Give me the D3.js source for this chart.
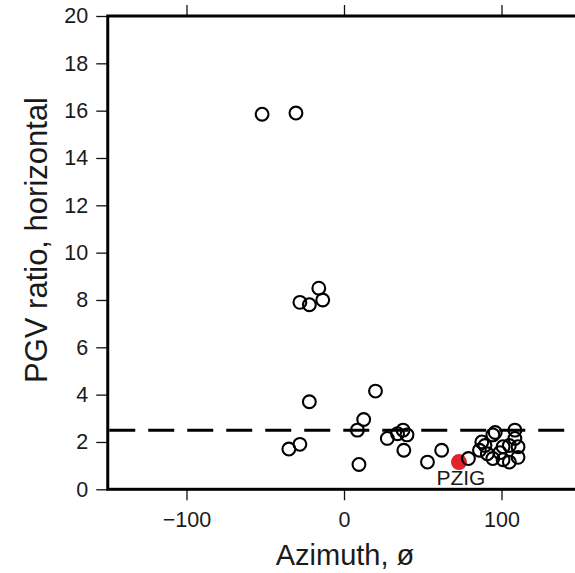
<!DOCTYPE html>
<html>
<head>
<meta charset="utf-8">
<script src="https://cdn.jsdelivr.net/npm/d3@7"></script>
<style>
  html, body { margin: 0; padding: 0; background: #fff; }
  svg { display: block; font-family: "Liberation Sans", Arial, Helvetica, sans-serif; }
</style>
</head>
<body>
<svg id="chart" width="575" height="573"></svg>
<script>
// Station azimuths (degrees) and horizontal PGV ratios
const azimuth = [-52, -30.5, -28, -22, -16, -13.5, -22, 20, 12.5, 8.5, 9.5, -35, -28,
  27.5, 34, 37.5, 40, 38, 53, 62, 79, 87.5, 86, 91, 94.5, 96, 94.5, 99, 101, 101,
  105, 108.5, 108.5, 110.5, 110.5, 89.5, 105];
const pgvRatio = [15.85, 15.9, 7.9, 7.8, 8.5, 8.0, 3.7, 4.15, 2.95, 2.5, 1.05, 1.7, 1.9,
  2.15, 2.35, 2.5, 2.3, 1.65, 1.15, 1.65, 1.3, 2.0, 1.65, 1.5, 2.3, 2.4, 1.3, 1.55, 1.8, 1.25,
  1.15, 2.5, 2.15, 1.8, 1.35, 1.85, 1.85];

// Highlighted station
const highlightName = ["PZIG"];
const highlightAzimuth = [73];
const highlightRatio = [1.15];

// Reference threshold
const threshold = [2.5];

const xTicks = [-100, 0, 100];
const yTicks = [0, 2, 4, 6, 8, 10, 12, 14, 16, 18, 20];

const svg = d3.select("#chart");
const plotL = 107.75, plotR = 580.25, plotT = 16, plotB = 489.3;

const x = d3.scaleLinear().domain([-150, 150]).range([plotL, plotR]);
const y = d3.scaleLinear().domain([0, 20]).range([plotB, plotT]);

const tickFont = "21.5px";

// Left axis
const gy = svg.append("g")
  .attr("transform", `translate(${plotL},0)`)
  .call(d3.axisLeft(y).tickValues(yTicks).tickSize(11.5).tickPadding(8).tickSizeOuter(0));
gy.select(".domain").remove();
gy.selectAll(".tick line").attr("stroke", "#111").attr("stroke-width", 1.3);
gy.selectAll(".tick text").attr("font-size", tickFont).attr("fill", "#1a1a1a").attr("font-family", "Liberation Sans, Arial, sans-serif");

// Bottom axis
const gx = svg.append("g")
  .attr("transform", `translate(0,${plotB})`)
  .call(d3.axisBottom(x).tickValues(xTicks).tickSize(11).tickPadding(11).tickSizeOuter(0));
gx.select(".domain").remove();
gx.selectAll(".tick line").attr("stroke", "#111").attr("stroke-width", 1.3);
gx.selectAll(".tick text").attr("font-size", tickFont).attr("fill", "#1a1a1a").attr("font-family", "Liberation Sans, Arial, sans-serif");

// Top axis (ticks only)
const gt = svg.append("g")
  .attr("transform", `translate(0,${plotT})`)
  .call(d3.axisTop(x).tickValues(xTicks).tickSize(11).tickFormat("").tickSizeOuter(0));
gt.select(".domain").remove();
gt.selectAll(".tick line").attr("stroke", "#111").attr("stroke-width", 1.3);

// Frame
svg.append("rect")
  .attr("x", plotL).attr("y", plotT)
  .attr("width", plotR - plotL).attr("height", plotB - plotT)
  .attr("fill", "none").attr("stroke", "#000").attr("stroke-width", 3);

// Threshold line
svg.selectAll("line.threshold").data(threshold).enter().append("line")
  .attr("class", "threshold")
  .attr("x1", plotL + 1.5).attr("x2", plotR)
  .attr("y1", d => y(d)).attr("y2", d => y(d))
  .attr("stroke", "#000").attr("stroke-width", 3)
  .attr("stroke-dasharray", "26,13");

// Highlighted station marker
svg.selectAll("circle.hl").data(highlightAzimuth).enter().append("circle")
  .attr("class", "hl")
  .attr("cx", d => x(d)).attr("cy", (d, i) => y(highlightRatio[i]))
  .attr("r", 8).attr("fill", "#e3232b");

// Station markers
const pts = azimuth.map((a, i) => ({ a, r: pgvRatio[i] }));
svg.selectAll("circle.pt").data(pts).enter().append("circle")
  .attr("class", "pt")
  .attr("cx", d => x(d.a)).attr("cy", d => y(d.r))
  .attr("r", 6.4).attr("fill", "none")
  .attr("stroke", "#000").attr("stroke-width", 2.1);

// Station label
svg.selectAll("text.hl").data(highlightName).enter().append("text")
  .attr("class", "hl")
  .attr("x", (d, i) => x(highlightAzimuth[i]) + 2)
  .attr("y", 485)
  .attr("text-anchor", "middle")
  .attr("font-size", "21px").attr("fill", "#1a1a1a")
  .text(d => d);

// Axis titles
svg.append("text")
  .attr("x", 345).attr("y", 565)
  .attr("text-anchor", "middle")
  .attr("font-size", "29px").attr("fill", "#1a1a1a")
  .text("Azimuth, ø");

svg.append("text")
  .attr("transform", "translate(47,240) rotate(-90)")
  .attr("text-anchor", "middle")
  .attr("font-size", "31px").attr("fill", "#1a1a1a")
  .text("PGV ratio, horizontal");
</script>
</body>
</html>
